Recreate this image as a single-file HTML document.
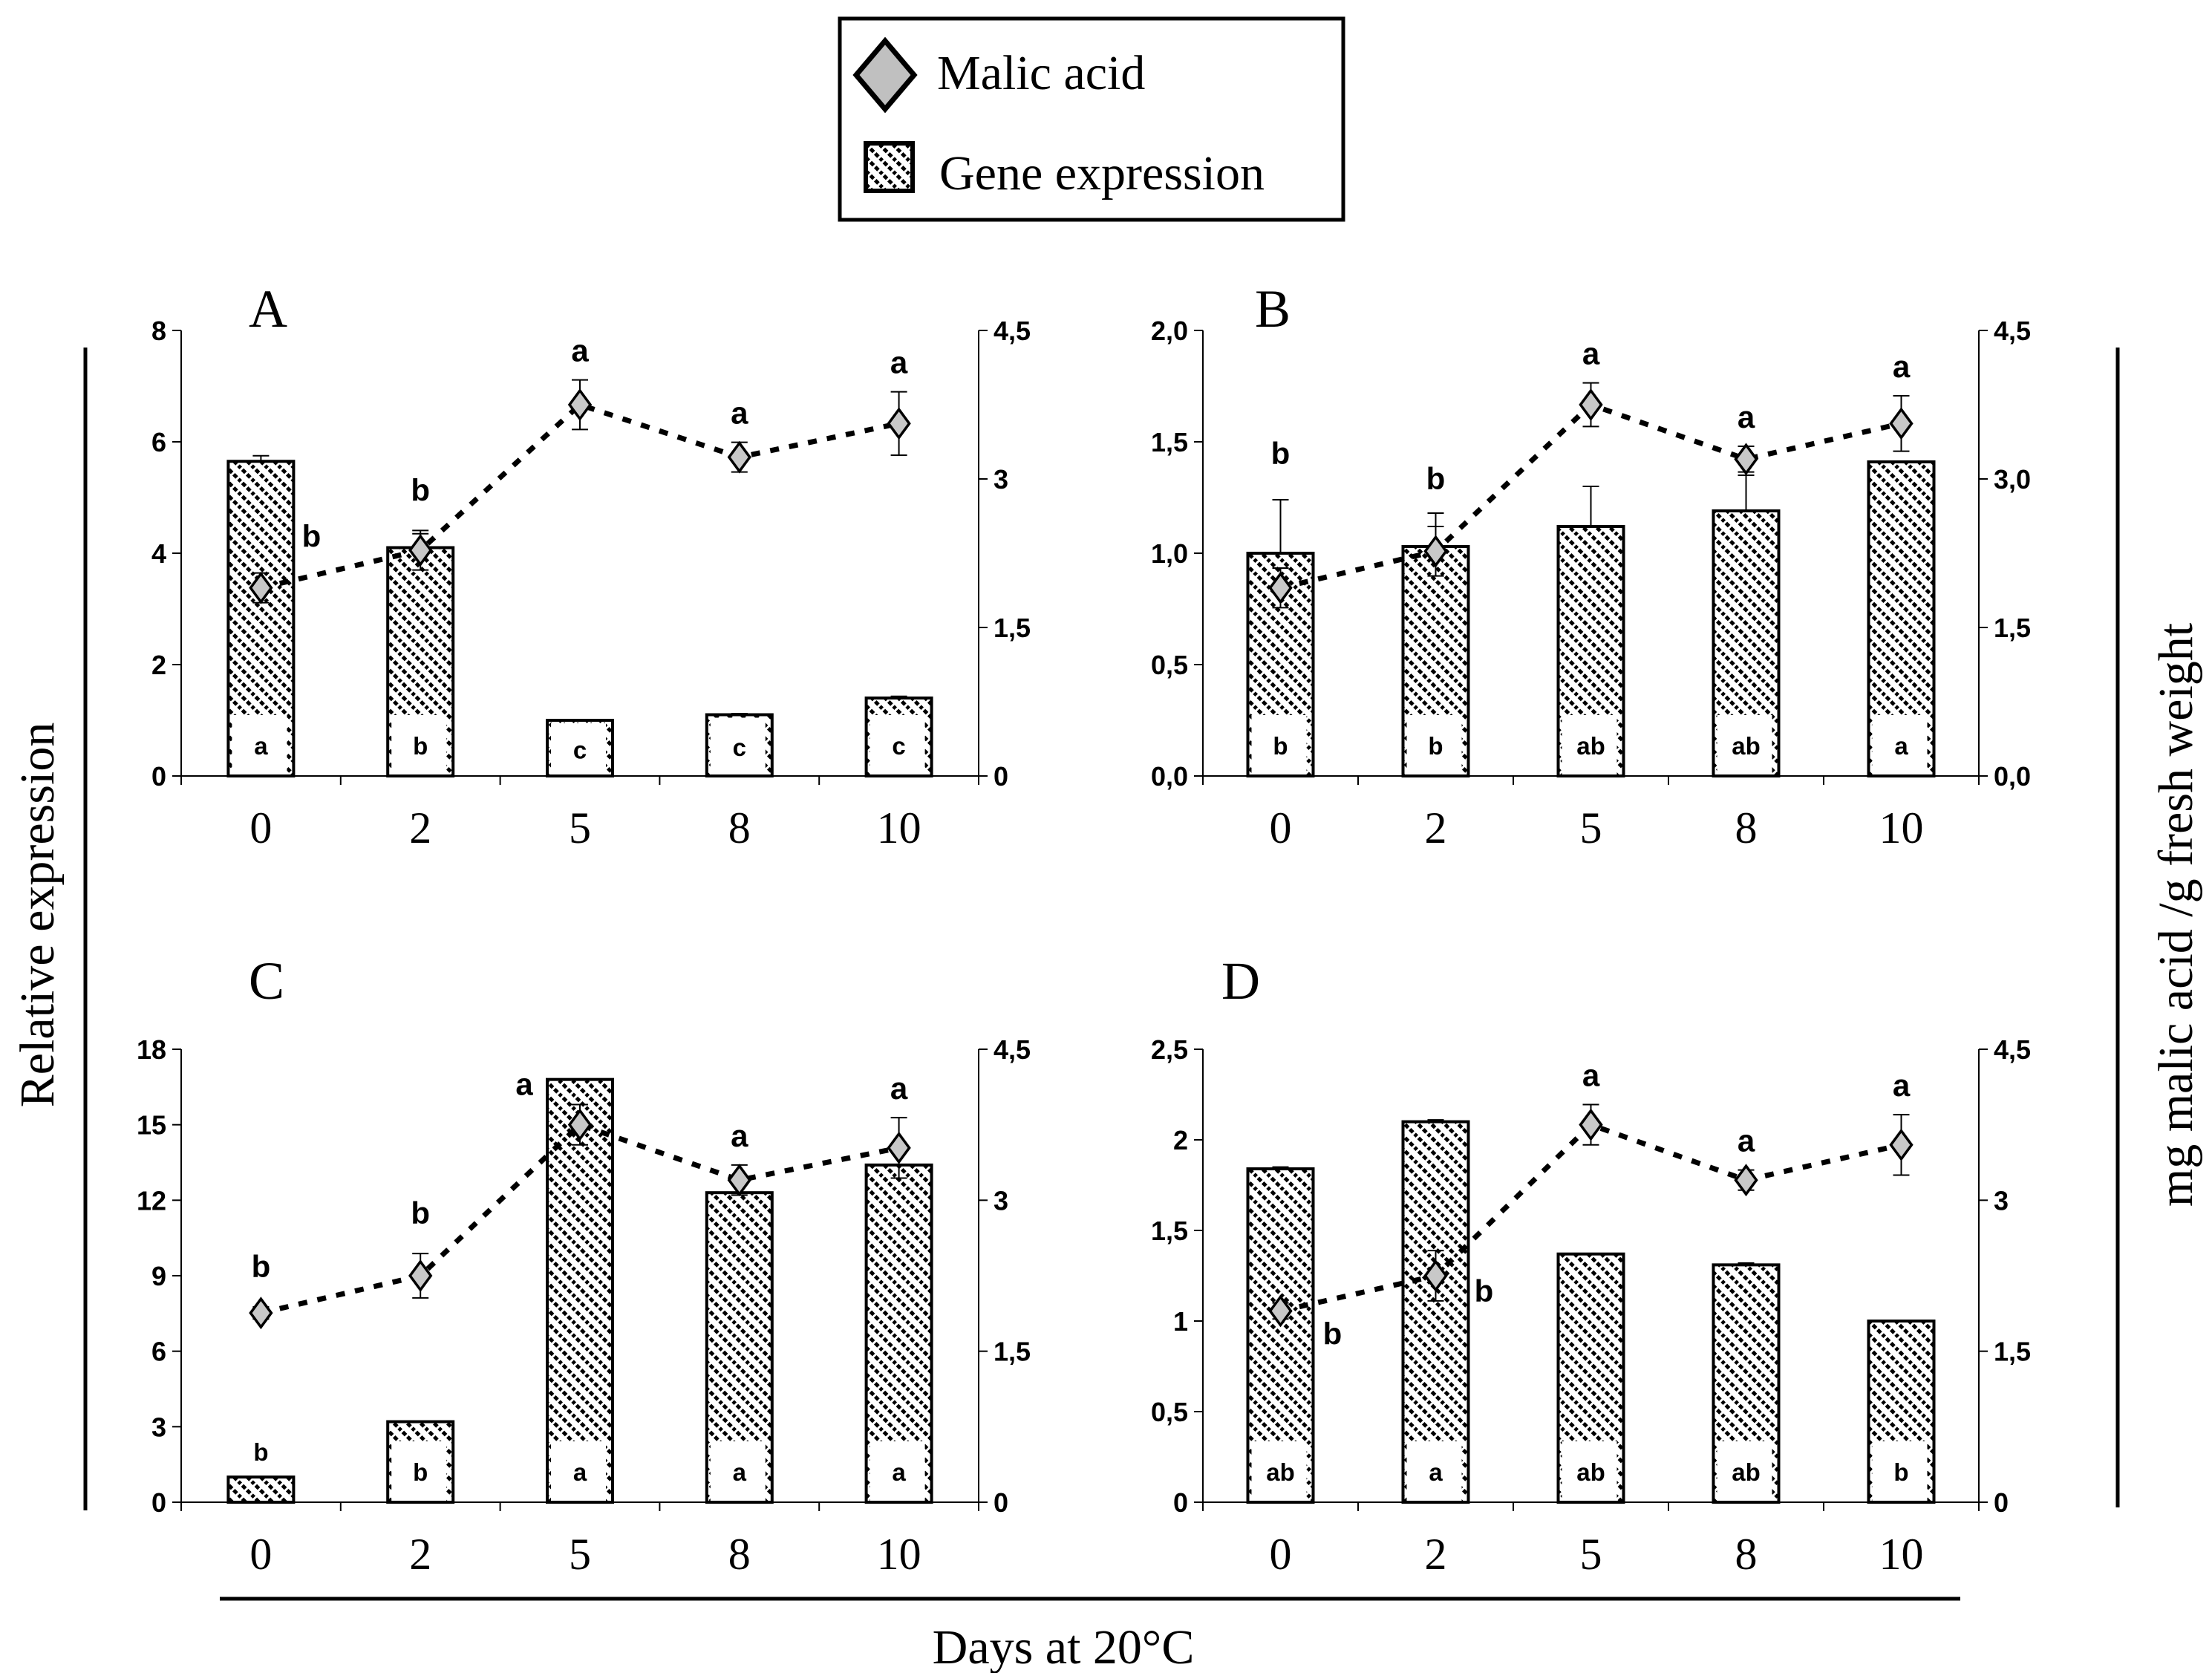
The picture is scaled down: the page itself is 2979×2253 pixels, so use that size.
<!DOCTYPE html>
<html><head><meta charset="utf-8"><style>
html,body{margin:0;padding:0;background:#fff}
svg{display:block}
.tk{font-family:"Liberation Sans",sans-serif;font-weight:bold;font-size:36px}
.cat{font-family:"Liberation Serif",serif;font-size:60px}
.let{font-family:"Liberation Sans",sans-serif;font-weight:bold;font-size:42px}
.bl{font-family:"Liberation Sans",sans-serif;font-weight:bold;font-size:33px}
.pl{font-family:"Liberation Serif",serif;font-size:72px}
.big{font-family:"Liberation Serif",serif;font-size:66px}
</style></head><body>
<svg id="fig" width="2979" height="2253" viewBox="0 0 2979 2253" xmlns="http://www.w3.org/2000/svg">
<defs>
<pattern id="hatch" patternUnits="userSpaceOnUse" width="18" height="18">
<rect width="18" height="18" fill="#fff"/>
<path d="M-4,-4 L22,22 M-4,14 L4,22 M14,-4 L22,4" stroke="#000" stroke-width="5" stroke-dasharray="6,3"/>
</pattern>
</defs>
<g>
<rect x="1131" y="25" width="678" height="271" fill="#fff" stroke="#000" stroke-width="5"/>
<path d="M1192,55 L1231,101 L1192,147 L1153,101 Z" fill="#c0c0c0" stroke="#000" stroke-width="7"/>
<text x="1262" y="120" class="big">Malic acid</text>
<rect x="1166" y="193" width="63" height="64" fill="url(#hatch)" stroke="#000" stroke-width="6"/>
<text x="1265" y="255" class="big">Gene expression</text>
</g>
<line x1="115" y1="468" x2="115" y2="2034" stroke="#000" stroke-width="5"/>
<line x1="2852" y1="468" x2="2852" y2="2030" stroke="#000" stroke-width="5"/>
<line x1="296" y1="2153" x2="2640" y2="2153" stroke="#000" stroke-width="5"/>
<text x="1432" y="2240" class="big" text-anchor="middle">Days at 20°C</text>
<text transform="translate(72,1232) rotate(-90)" class="big" text-anchor="middle">Relative expression</text>
<text transform="translate(2952,1232) rotate(-90)" class="big" text-anchor="middle">mg malic acid /g fresh weight</text>
<g id="plots"></g>
</svg>
<script>
// shared categories
const categories = ["0","2","5","8","10"];
// Panel A
const barsA = [5.65, 4.1, 1.0, 1.1, 1.4];
const barErrA = [0.1, 0.25, 0, 0.02, 0.03];
const malicA = [1.9, 2.28, 3.75, 3.22, 3.56];
const malicErrA = [0.15, 0.2, 0.25, 0.15, 0.32];
const barLetA = ["a","b","c","c","c"];
const malicLetA = ["b","b","a","a","a"];
const leftTicksA = ["0","2","4","6","8"];
// Panel B
const barsB = [1.0, 1.03, 1.12, 1.19, 1.41];
const barErrB = [0.24, 0.15, 0.18, 0.16, 0.0];
const malicB = [1.9, 2.27, 3.75, 3.2, 3.56];
const malicErrB = [0.2, 0.25, 0.22, 0.13, 0.28];
const barLetB = ["b","b","ab","ab","a"];
const malicLetB = ["b","b","a","a","a"];
const leftTicksB = ["0,0","0,5","1,0","1,5","2,0"];
// Panel C
const barsC = [1.0, 3.2, 16.8, 12.3, 13.4];
const barErrC = [0, 0, 0, 0, 0];
const malicC = [1.88, 2.25, 3.75, 3.2, 3.52];
const malicErrC = [0.06, 0.22, 0.2, 0.15, 0.3];
const barLetC = ["b","b","a","a","a"];
const malicLetC = ["b","b","a","a","a"];
const leftTicksC = ["0","3","6","9","12","15","18"];
// Panel D
const barsD = [1.84, 2.1, 1.37, 1.31, 1.0];
const barErrD = [0.01, 0.01, 0.0, 0.01, 0.0];
const malicD = [1.9, 2.25, 3.75, 3.2, 3.55];
const malicErrD = [0.08, 0.25, 0.2, 0.1, 0.3];
const barLetD = ["ab","a","ab","ab","b"];
const malicLetD = ["b","b","a","a","a"];
const leftTicksD = ["0","0,5","1","1,5","2","2,5"];
const rightTicksComma = ["0,0","1,5","3,0","4,5"];
const rightTicks = ["0","1,5","3","4,5"];

const NS="http://www.w3.org/2000/svg";
const root=document.getElementById('plots');
function mk(tag,attrs,parent,text){const e=document.createElementNS(NS,tag);for(const k in attrs)e.setAttribute(k,attrs[k]);if(text!==undefined)e.textContent=text;parent.appendChild(e);return e;}

function panel(cfg){
  const g=mk('g',{},root);
  
  
  const L=cfg.x0,R=cfg.x1,T=cfg.y0,B=cfg.y1;
  const lmax=parseFloat(cfg.lticks[cfg.lticks.length-1].replace(',','.'));
  const yL=v=>B-(v/lmax)*(B-T);
  const yR=v=>B-(v/4.5)*(B-T);
  const step=(R-L)/categories.length;
  const xC=i=>L+step*(i+0.5);
  const t=mk('text',{x:cfg.lx,y:cfg.ly,'class':'pl'},g,cfg.id);
  
  
  const ax=mk('g',{},g);
  
  
  mk('line',{x1:L,y1:T,x2:L,y2:B,stroke:'#000','stroke-width':2},ax);
  mk('line',{x1:R,y1:T,x2:R,y2:B,stroke:'#000','stroke-width':2},ax);
  mk('line',{x1:L,y1:B,x2:R,y2:B,stroke:'#000','stroke-width':2},ax);
  cfg.lticks.forEach((s,i)=>{const v=parseFloat(s.replace(',','.'));const y=yL(v);
    mk('line',{x1:L-12,y1:y,x2:L,y2:y,stroke:'#000','stroke-width':2},ax);
    const tx=mk('text',{x:L-20,y:y+13,'text-anchor':'end','class':'tk'},ax,s);
    
    });
  cfg.rticks.forEach(s=>{const v=parseFloat(s.replace(',','.'));const y=yR(v);
    mk('line',{x1:R,y1:y,x2:R+12,y2:y,stroke:'#000','stroke-width':2},ax);
    const tx=mk('text',{x:R+20,y:y+13,'class':'tk'},ax,s);
    
    });
  for(let i=0;i<=categories.length;i++){const x=L+step*i;mk('line',{x1:x,y1:B,x2:x,y2:B+12,stroke:'#000','stroke-width':2},ax);}
  categories.forEach((c,i)=>{const tx=mk('text',{x:xC(i),y:B+90,'text-anchor':'middle','class':'cat'},ax,c);
    
    });
  const bw=88;
  cfg.bars.forEach((v,i)=>{const x=xC(i)-bw/2,y=yL(v);
    const r=mk('rect',{x:x,y:y,width:bw,height:B-y,fill:'url(#hatch)',stroke:'#000','stroke-width':4},g);
    
    
    const e=cfg.berr[i];
    if(e>0){const ye=yL(v+e);mk('line',{x1:xC(i),y1:y,x2:xC(i),y2:ye,stroke:'#000','stroke-width':2},g);mk('line',{x1:xC(i)-11,y1:ye,x2:xC(i)+11,y2:ye,stroke:'#000','stroke-width':2},g);}
    const lab=cfg.blet[i];
    const barH=B-y;
    if(cfg.letAbove&&cfg.letAbove[i]){const tx=mk('text',{x:xC(i),y:y-22,'text-anchor':'middle','class':'bl'},g,lab);
      
      }
    else{const bh=Math.min(82,barH-4);
      mk('rect',{x:xC(i)-bw/2+5,y:B-bh,width:bw-14,height:bh-2,fill:'#fff'},g);
      const tx=mk('text',{x:xC(i),y:B-bh/2+12,'text-anchor':'middle','class':'bl'},g,lab);
      
      }
  });
  const pts=cfg.malic.map((v,i)=>[xC(i),yR(v)]);
  const ln=mk('polyline',{points:pts.map(p=>p.join(',')).join(' '),fill:'none',stroke:'#000','stroke-width':7,'stroke-dasharray':'12,14'},g);
  
  
  cfg.malic.forEach((v,i)=>{const [x,y]=pts[i];const e=cfg.merr[i];
    const y1=yR(v+e),y2=yR(v-e);
    mk('line',{x1:x,y1:y1,x2:x,y2:y2,stroke:'#000','stroke-width':2},g);
    mk('line',{x1:x-11,y1:y1,x2:x+11,y2:y1,stroke:'#000','stroke-width':2},g);
    mk('line',{x1:x-11,y1:y2,x2:x+11,y2:y2,stroke:'#000','stroke-width':2},g);
    const d=mk('path',{d:`M${x},${y-19} L${x+14},${y} L${x},${y+19} L${x-14},${y} Z`,fill:'#c8c8c8',stroke:'#000','stroke-width':3.5},g);
    
    
    const off=cfg.mletPos[i];
    const tx=mk('text',{x:x+off[0],y:(off[2]?y:y1)+off[1],'text-anchor':'middle','class':'let'},g,cfg.mlet[i]);
    
    
  });
}
const up=[0,-25,false];
panel({id:'A',x0:244,x1:1318,y0:445,y1:1045,lx:335,ly:440,lticks:leftTicksA,rticks:rightTicks,bars:barsA,berr:barErrA,malic:malicA,merr:malicErrA,blet:barLetA,mlet:malicLetA,mletPos:[[68,-55,true],[0,-40,false],up,up,up]});
panel({id:'B',x0:1620,x1:2665,y0:445,y1:1045,lx:1690,ly:440,lticks:leftTicksB,rticks:rightTicksComma,bars:barsB,berr:barErrB,malic:malicB,merr:malicErrB,blet:barLetB,mlet:malicLetB,mletPos:[[0,-140,false],[0,-50,false],up,up,up]});
panel({id:'C',x0:244,x1:1318,y0:1413,y1:2023,lx:335,ly:1345,lticks:leftTicksC,rticks:rightTicks,bars:barsC,berr:barErrC,malic:malicC,merr:malicErrC,blet:barLetC,mlet:malicLetC,letAbove:[true,false,false,false,false],mletPos:[[0,-40,false],[0,-40,false],[-75,-40,true],up,up]});
panel({id:'D',x0:1620,x1:2665,y0:1413,y1:2023,lx:1645,ly:1345,lticks:leftTicksD,rticks:rightTicks,bars:barsD,berr:barErrD,malic:malicD,merr:malicErrD,blet:barLetD,mlet:malicLetD,mletPos:[[70,45,true],[65,35,true],up,up,up]});
</script>
</body></html>
